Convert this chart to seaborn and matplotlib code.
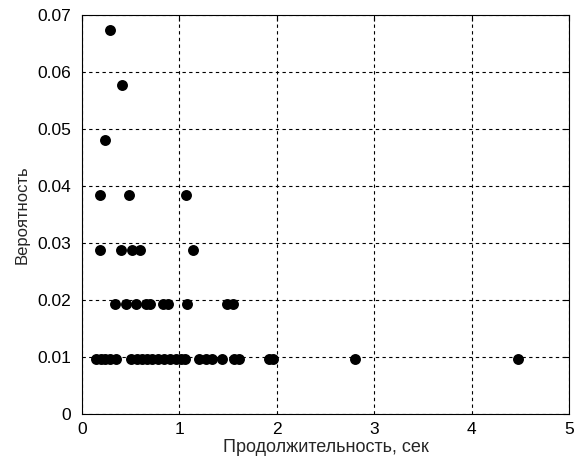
import numpy as np
import pandas as pd
import matplotlib
matplotlib.use("Agg")
import matplotlib.pyplot as plt
import seaborn as sns

# Event durations (s) grouped by how many times each one occurred (out of 104)
n_total = 104
dur_count1 = [0.14, 0.19, 0.24, 0.29, 0.35, 0.50, 0.56, 0.62, 0.67, 0.72,
              0.78, 0.84, 0.90, 0.96, 1.02, 1.06, 1.20, 1.27, 1.33, 1.44,
              1.56, 1.61, 1.92, 1.96, 2.80, 4.48]
dur_count2 = [0.34, 0.45, 0.55, 0.66, 0.70, 0.83, 0.88, 1.08, 1.49, 1.55]
dur_count3 = [0.18, 0.40, 0.51, 0.60, 1.14]
dur_count4 = [0.18, 0.48, 1.07]
dur_count5 = [0.24]
dur_count6 = [0.41]
dur_count7 = [0.29]

groups = [dur_count1, dur_count2, dur_count3, dur_count4,
          dur_count5, dur_count6, dur_count7]
rows = []
for k, durs in enumerate(groups, start=1):
    for d in durs:
        rows.append({"duration": d, "prob": k / n_total})
df = pd.DataFrame(rows)

x_ticks = [0, 1, 2, 3, 4, 5]
y_ticks = [0, 0.01, 0.02, 0.03, 0.04, 0.05, 0.06, 0.07]

sns.set_style("white")
plt.rcParams["font.family"] = ["Liberation Sans", "DejaVu Sans"]
plt.rcParams["xtick.direction"] = "in"
plt.rcParams["ytick.direction"] = "in"

fig = plt.figure(figsize=(5.83, 4.62), dpi=100)
ax = fig.add_axes([0.1407, 0.1041, 0.976 - 0.1407, 0.9675 - 0.1041])

sns.scatterplot(data=df, x="duration", y="prob", ax=ax, color="black",
                s=62, edgecolor="black", linewidth=0, legend=False, zorder=3)

ax.set_xlim(0, 5)
ax.set_ylim(0, 0.07)
ax.set_xticks(x_ticks)
ax.set_yticks(y_ticks)
ax.set_xticklabels([str(t) for t in x_ticks])
ax.set_yticklabels(["0"] + [f"{t:.2f}" for t in y_ticks[1:]])
ax.tick_params(axis="both", labelsize=12.5, colors="black", length=4,
               width=0.8, top=True, right=True)
ax.tick_params(axis="x", pad=6)
ax.tick_params(axis="y", pad=8)

ax.grid(True, color="black", linestyle=(0, (3, 3)), linewidth=0.8)
ax.set_axisbelow(True)
for sp in ax.spines.values():
    sp.set_visible(True)
    sp.set_color("black")
    sp.set_linewidth(0.8)

ax.set_xlabel("Продолжительность, сек", fontsize=13, labelpad=1)
ax.set_ylabel("Вероятность", fontsize=12, labelpad=5)

fig.savefig("out.png", dpi=100, facecolor="white")
